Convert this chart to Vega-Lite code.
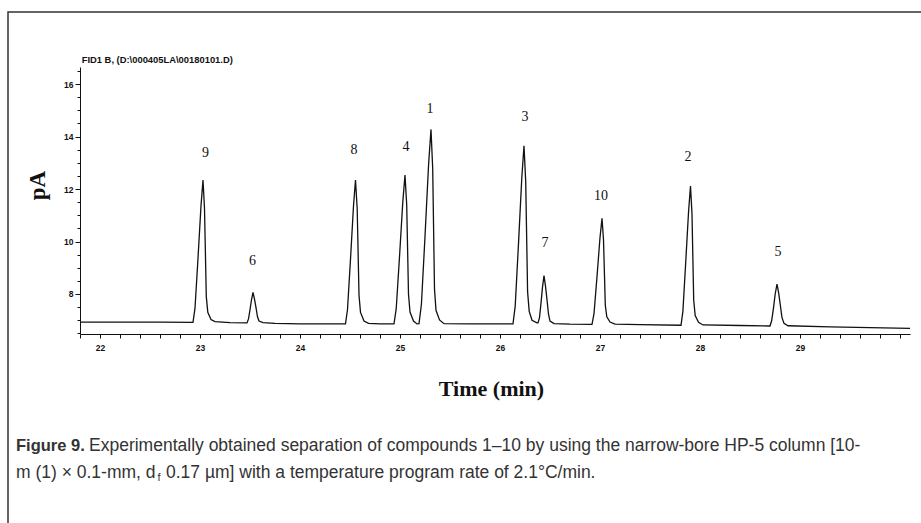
{
  "$schema": "https://vega.github.io/schema/vega-lite/v6.json",
  "width": 830,
  "height": 267,
  "autosize": {"type": "none"},
  "padding": {"left": 80, "top": 67, "right": 11, "bottom": 189},
  "background": "white",
  "config": {
    "view": {"stroke": null}
  },
  "datasets": {
    "trace": [
      {"t": 21.8, "v": 6.93}, {"t": 22.2, "v": 6.93}, {"t": 22.6, "v": 6.925}, {"t": 22.93, "v": 6.92},
      {"t": 22.95, "v": 7.46}, {"t": 22.98, "v": 9.36}, {"t": 23.01, "v": 11.36}, {"t": 23.03, "v": 12.34},
      {"t": 23.045, "v": 11.26}, {"t": 23.063, "v": 7.9}, {"t": 23.078, "v": 7.3}, {"t": 23.11, "v": 7.03},
      {"t": 23.15, "v": 6.95}, {"t": 23.3, "v": 6.91}, {"t": 23.47, "v": 6.9}, {"t": 23.485, "v": 7.05},
      {"t": 23.5, "v": 7.4}, {"t": 23.515, "v": 7.78}, {"t": 23.53, "v": 8.06}, {"t": 23.545, "v": 7.8},
      {"t": 23.56, "v": 7.48}, {"t": 23.575, "v": 7.13}, {"t": 23.59, "v": 6.97}, {"t": 23.63, "v": 6.91},
      {"t": 23.75, "v": 6.88}, {"t": 24.0, "v": 6.865}, {"t": 24.455, "v": 6.86}, {"t": 24.475, "v": 7.41},
      {"t": 24.505, "v": 9.33}, {"t": 24.535, "v": 11.35}, {"t": 24.555, "v": 12.34}, {"t": 24.572, "v": 11.24},
      {"t": 24.59, "v": 7.96}, {"t": 24.605, "v": 7.3}, {"t": 24.64, "v": 6.97}, {"t": 24.685, "v": 6.88},
      {"t": 24.8, "v": 6.86}, {"t": 24.94, "v": 6.86}, {"t": 24.962, "v": 7.43}, {"t": 24.995, "v": 9.41},
      {"t": 25.028, "v": 11.51}, {"t": 25.05, "v": 12.53}, {"t": 25.067, "v": 11.4}, {"t": 25.085, "v": 7.99},
      {"t": 25.1, "v": 7.31}, {"t": 25.135, "v": 6.97}, {"t": 25.17, "v": 6.86}, {"t": 25.19, "v": 6.87},
      {"t": 25.214, "v": 7.6}, {"t": 25.25, "v": 10.19}, {"t": 25.286, "v": 12.94}, {"t": 25.31, "v": 14.27},
      {"t": 25.327, "v": 12.79}, {"t": 25.345, "v": 8.19}, {"t": 25.36, "v": 7.38}, {"t": 25.395, "v": 7.01},
      {"t": 25.44, "v": 6.87}, {"t": 25.7, "v": 6.86}, {"t": 26.13, "v": 6.86}, {"t": 26.152, "v": 7.54},
      {"t": 26.185, "v": 9.92}, {"t": 26.218, "v": 12.43}, {"t": 26.24, "v": 13.65}, {"t": 26.257, "v": 12.29},
      {"t": 26.276, "v": 8.08}, {"t": 26.292, "v": 7.34}, {"t": 26.32, "v": 7.0}, {"t": 26.37, "v": 6.9},
      {"t": 26.38, "v": 6.9}, {"t": 26.395, "v": 7.1}, {"t": 26.41, "v": 7.65}, {"t": 26.425, "v": 8.26},
      {"t": 26.44, "v": 8.7}, {"t": 26.455, "v": 8.3}, {"t": 26.47, "v": 7.78}, {"t": 26.485, "v": 7.23},
      {"t": 26.5, "v": 6.97}, {"t": 26.54, "v": 6.87}, {"t": 26.7, "v": 6.85}, {"t": 26.92, "v": 6.845},
      {"t": 26.94, "v": 7.25}, {"t": 26.97, "v": 8.66}, {"t": 27.0, "v": 10.15}, {"t": 27.02, "v": 10.88},
      {"t": 27.035, "v": 10.07}, {"t": 27.053, "v": 7.57}, {"t": 27.068, "v": 7.13}, {"t": 27.1, "v": 6.93},
      {"t": 27.15, "v": 6.85}, {"t": 27.4, "v": 6.83}, {"t": 27.81, "v": 6.81}, {"t": 27.829, "v": 7.34},
      {"t": 27.857, "v": 9.2}, {"t": 27.886, "v": 11.16}, {"t": 27.905, "v": 12.11}, {"t": 27.92, "v": 11.05},
      {"t": 27.937, "v": 7.76}, {"t": 27.952, "v": 7.18}, {"t": 27.985, "v": 6.92}, {"t": 28.03, "v": 6.82},
      {"t": 28.4, "v": 6.8}, {"t": 28.7, "v": 6.78}, {"t": 28.717, "v": 6.99}, {"t": 28.735, "v": 7.47},
      {"t": 28.752, "v": 8.0}, {"t": 28.77, "v": 8.38}, {"t": 28.787, "v": 8.03}, {"t": 28.803, "v": 7.58},
      {"t": 28.82, "v": 7.1}, {"t": 28.84, "v": 6.88}, {"t": 28.88, "v": 6.79}, {"t": 29.3, "v": 6.75},
      {"t": 29.7, "v": 6.72}, {"t": 30.1, "v": 6.69}
    ],
    "labels": [
      {"t": 23.055, "v": 13.37, "n": "9"},
      {"t": 23.525, "v": 9.27, "n": "6"},
      {"t": 24.54, "v": 13.49, "n": "8"},
      {"t": 25.06, "v": 13.61, "n": "4"},
      {"t": 25.3, "v": 15.06, "n": "1"},
      {"t": 26.25, "v": 14.74, "n": "3"},
      {"t": 26.45, "v": 9.94, "n": "7"},
      {"t": 27.01, "v": 11.74, "n": "10"},
      {"t": 27.88, "v": 13.22, "n": "2"},
      {"t": 28.78, "v": 9.6, "n": "5"}
    ],
    "one": [{}]
  },
  "layer": [
    {
      "data": {"name": "trace"},
      "mark": {"type": "line", "color": "#111", "strokeWidth": 1.3, "interpolate": "linear"},
      "encoding": {
        "x": {
          "field": "t", "type": "quantitative",
          "scale": {"domain": [21.8, 30.1], "nice": false, "zero": false},
          "axis": {
            "title": "Time (min)",
            "titleFont": "Liberation Serif",
            "titleFontWeight": "bold",
            "titleFontSize": 22,
            "titleColor": "#111",
            "titleBaseline": "alphabetic",
            "titleAlign": "center",
            "titleX": 411,
            "titleY": 61,
            "domainColor": "#111",
            "tickColor": "#111",
            "labelColor": "#111",
            "labelFont": "Liberation Sans",
            "labelFontWeight": "bold",
            "labelFontSize": 8.5,
            "grid": false,
            "tickCount": 200,
            "values": [21.8, 22, 22.2, 22.4, 22.6, 22.8, 23, 23.2, 23.4, 23.6, 23.8, 24, 24.2, 24.4, 24.6, 24.8, 25, 25.2, 25.4, 25.6, 25.8, 26, 26.2, 26.4, 26.6, 26.8, 27, 27.2, 27.4, 27.6, 27.8, 28, 28.2, 28.4, 28.6, 28.8, 29, 29.2, 29.4, 29.6, 29.8, 30],
            "labelExpr": "datum.value % 1 === 0 && datum.value < 30 ? '' + datum.value : ''",
            "labelOverlap": false,
            "labelFlush": false,
            "tickSize": 4,
            "labelPadding": 5
          }
        },
        "y": {
          "field": "v", "type": "quantitative",
          "scale": {"domain": [6.476, 16.648], "nice": false, "zero": false},
          "axis": {
            "title": "pA",
            "titleFont": "Liberation Serif",
            "titleFontWeight": "bold",
            "titleFontSize": 23,
            "titleColor": "#111",
            "titleAngle": -90,
            "titleBaseline": "alphabetic",
            "titleAlign": "center",
            "titleX": -36,
            "titleY": 118,
            "domainColor": "#111",
            "tickColor": "#111",
            "labelColor": "#111",
            "labelFont": "Liberation Sans",
            "labelFontWeight": "bold",
            "labelFontSize": 8.5,
            "grid": false,
            "tickCount": 200,
            "values": [6.5, 7, 7.5, 8, 8.5, 9, 9.5, 10, 10.5, 11, 11.5, 12, 12.5, 13, 13.5, 14, 14.5, 15, 15.5, 16, 16.5],
            "labelExpr": "datum.value % 2 === 0 ? '' + datum.value : ''",
            "labelOverlap": false,
            "tickSize": {"condition": {"test": "datum.value % 2 === 0", "value": 5}, "value": 3},
            "labelPadding": 2
          }
        }
      }
    },
    {
      "data": {"name": "one"},
      "mark": {"type": "rect", "fill": "white", "fillOpacity": 0, "stroke": "#333", "strokeWidth": 1.5},
      "encoding": {
        "x": {"datum": 21.08, "type": "quantitative"},
        "x2": {"datum": 30.5},
        "y": {"datum": 18.743, "type": "quantitative"},
        "y2": {"datum": -2}
      }
    },
    {
      "data": {"name": "labels"},
      "mark": {"type": "text", "font": "Liberation Serif", "fontSize": 14, "color": "#111", "align": "center", "baseline": "middle"},
      "encoding": {
        "x": {"field": "t", "type": "quantitative"},
        "y": {"field": "v", "type": "quantitative"},
        "text": {"field": "n"}
      }
    },
    {
      "data": {"name": "one"},
      "mark": {"type": "text", "text": "FID1 B,  (D:\\000405LA\\00180101.D)", "font": "Liberation Sans", "fontWeight": "bold", "fontSize": 9.4, "color": "#111", "align": "left", "baseline": "middle"},
      "encoding": {
        "x": {"datum": 21.817, "type": "quantitative"},
        "y": {"datum": 16.915, "type": "quantitative"}
      }
    },
    {
      "data": {"name": "one"},
      "mark": {"type": "text", "text": "Figure 9.", "font": "Liberation Sans", "fontWeight": "bold", "fontSize": 16.5, "color": "#333", "align": "left", "baseline": "middle"},
      "encoding": {
        "x": {"datum": 21.16, "type": "quantitative"},
        "y": {"datum": 2.21, "type": "quantitative"}
      }
    },
    {
      "data": {"name": "one"},
      "mark": {"type": "text", "text": "Experimentally obtained separation of compounds 1–10 by using the narrow-bore HP-5 column [10-", "font": "Liberation Sans", "fontSize": 17.5, "color": "#333", "align": "left", "baseline": "middle"},
      "encoding": {
        "x": {"datum": 21.89, "type": "quantitative"},
        "y": {"datum": 2.21, "type": "quantitative"}
      }
    },
    {
      "data": {"name": "one"},
      "mark": {"type": "text", "text": "m (1) × 0.1-mm, d", "font": "Liberation Sans", "fontSize": 17.5, "color": "#333", "align": "left", "baseline": "middle"},
      "encoding": {
        "x": {"datum": 21.16, "type": "quantitative"},
        "y": {"datum": 1.18, "type": "quantitative"}
      }
    },
    {
      "data": {"name": "one"},
      "mark": {"type": "text", "text": "f", "font": "Liberation Sans", "fontSize": 11, "color": "#333", "align": "left", "baseline": "middle"},
      "encoding": {
        "x": {"datum": 22.575, "type": "quantitative"},
        "y": {"datum": 0.99, "type": "quantitative"}
      }
    },
    {
      "data": {"name": "one"},
      "mark": {"type": "text", "text": "0.17 µm] with a temperature program rate of 2.1°C/min.", "font": "Liberation Sans", "fontSize": 17.5, "color": "#333", "align": "left", "baseline": "middle"},
      "encoding": {
        "x": {"datum": 22.66, "type": "quantitative"},
        "y": {"datum": 1.18, "type": "quantitative"}
      }
    }
  ]
}
